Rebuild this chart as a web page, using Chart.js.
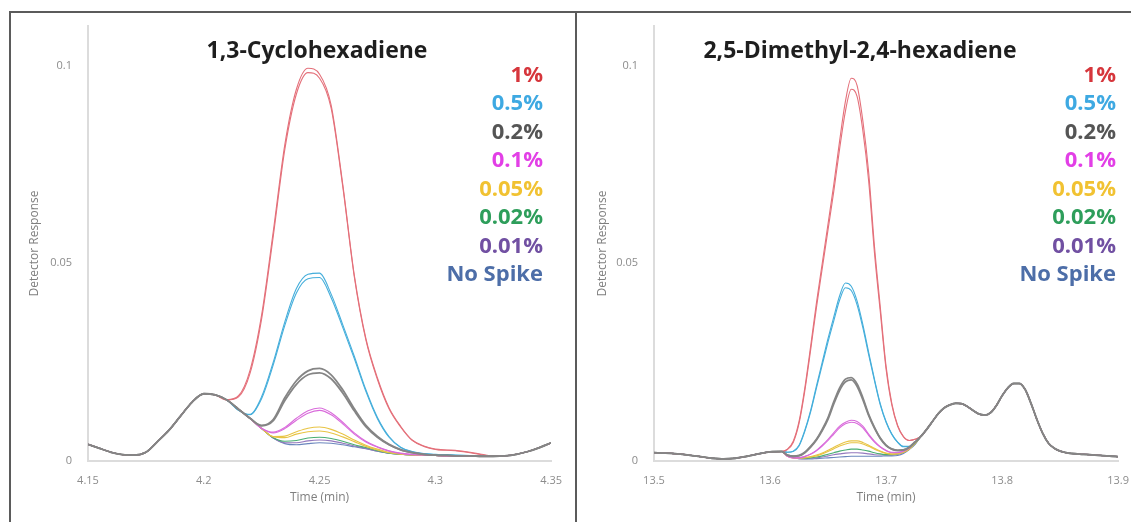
<!DOCTYPE html>
<html>
<head>
<meta charset="utf-8">
<script src="https://cdn.jsdelivr.net/npm/chart.js@4.4.1/dist/chart.umd.min.js"></script>
<style>
html,body{margin:0;padding:0;background:#fff;width:1131px;height:522px;overflow:hidden;position:relative;}
#frame{position:absolute;left:9px;top:11px;width:1200px;height:600px;border-left:2px solid #5b5b5b;border-top:2px solid #5b5b5b;}
#divider{position:absolute;left:575px;top:11px;width:2px;height:600px;background:#5b5b5b;}
.wrap{position:absolute;top:0;height:522px;}
#w1{left:0;width:575px;}
#w2{left:577px;width:565px;}
canvas{display:block;}
</style>
</head>
<body>
<div id="frame"></div>
<div id="divider"></div>
<div class="wrap" id="w1"><canvas id="c1" width="575" height="522"></canvas></div>
<div class="wrap" id="w2"><canvas id="c2" width="565" height="522"></canvas></div>
<script>
// ---------- shared labels ----------
const legendLabels = ['1%','0.5%','0.2%','0.1%','0.05%','0.02%','0.01%','No Spike'];
const legendColors = ['#d6363c','#3ea9e2','#555555','#e23fe6','#f1c232','#2e9e5b','#7150a2','#4d6ea8'];
const yTicks = [0, 0.05, 0.1];
const yTickLabels = ['0', '0.05', '0.1'];

// ---------- left panel: 1,3-Cyclohexadiene ----------
const titleL = '1,3-Cyclohexadiene';
const xTicksL = [4.15, 4.2, 4.25, 4.3, 4.35];
const xTickLabelsL = ['4.15', '4.2', '4.25', '4.3', '4.35'];
const timeHeadL = [4.150,4.155,4.160,4.165,4.170,4.175,4.180,4.185,4.190,4.195,4.200,4.205];
const timeMidL = [4.210,4.215,4.220,4.225,4.230,4.235,4.240,4.245,4.250,4.255,4.260,4.265,4.270,4.275,4.280,4.285,4.290,4.295,4.300,4.305,4.310,4.315,4.320];
const timeTailL = [4.325,4.330,4.335,4.340,4.345,4.350];
const headL = [0.0042,0.0032,0.0022,0.0016,0.0015,0.0022,0.0049,0.0078,0.0114,0.0149,0.0170,0.0167];
const tailL = [0.0012,0.0013,0.0017,0.0024,0.0034,0.0046];
const redL1 = [0.0155,0.0165,0.0230,0.0370,0.0580,0.0800,0.0940,0.0993,0.0978,0.0900,0.0700,0.0470,0.0310,0.0210,0.0135,0.0088,0.0053,0.0038,0.0030,0.0028,0.0026,0.0022,0.0017];
const redL2 = [0.0154,0.0162,0.0222,0.0360,0.0568,0.0788,0.0928,0.0982,0.0968,0.0892,0.0695,0.0466,0.0306,0.0206,0.0132,0.0086,0.0052,0.0037,0.0029,0.0027,0.0025,0.0021,0.0016];
const blueL1 = [0.0154,0.0128,0.0118,0.0163,0.0250,0.0352,0.0436,0.0472,0.0475,0.0422,0.0345,0.0265,0.0180,0.0110,0.0062,0.0035,0.0024,0.0019,0.0017,0.0016,0.0015,0.0014,0.0013];
const blueL2 = [0.0154,0.0128,0.0117,0.0158,0.0243,0.0343,0.0425,0.0461,0.0464,0.0413,0.0338,0.0259,0.0176,0.0107,0.0060,0.0034,0.0023,0.0018,0.0016,0.0015,0.0014,0.0014,0.0013];
const grayL1 = [0.0154,0.0131,0.0108,0.0090,0.0105,0.0160,0.0203,0.0228,0.0234,0.0218,0.0180,0.0132,0.0090,0.0062,0.0042,0.0029,0.0021,0.0017,0.0015,0.0014,0.0013,0.0013,0.0012];
const grayL2 = [0.0154,0.0131,0.0108,0.0089,0.0102,0.0153,0.0194,0.0218,0.0223,0.0208,0.0172,0.0127,0.0087,0.0060,0.0041,0.0028,0.0021,0.0017,0.0015,0.0014,0.0013,0.0013,0.0012];
const magentaL1 = [0.0154,0.0131,0.0107,0.0083,0.0073,0.0085,0.0108,0.0127,0.0134,0.0122,0.0098,0.0071,0.0050,0.0036,0.0026,0.0020,0.0017,0.0015,0.0014,0.0013,0.0013,0.0013,0.0012];
const magentaL2 = [0.0154,0.0131,0.0107,0.0082,0.0071,0.0082,0.0103,0.0121,0.0128,0.0117,0.0094,0.0068,0.0048,0.0035,0.0025,0.0019,0.0016,0.0015,0.0014,0.0013,0.0013,0.0013,0.0012];
const yellowL1 = [0.0154,0.0131,0.0107,0.0082,0.0062,0.0063,0.0074,0.0083,0.0086,0.0080,0.0068,0.0053,0.0040,0.0030,0.0022,0.0018,0.0016,0.0015,0.0014,0.0013,0.0013,0.0013,0.0012];
const yellowL2 = [0.0154,0.0131,0.0107,0.0082,0.0061,0.0059,0.0068,0.0074,0.0076,0.0071,0.0061,0.0049,0.0037,0.0028,0.0021,0.0017,0.0015,0.0014,0.0014,0.0013,0.0013,0.0013,0.0012];
const greenL = [0.0154,0.0131,0.0107,0.0082,0.0059,0.0050,0.0052,0.0058,0.0060,0.0057,0.0050,0.0041,0.0034,0.0026,0.0020,0.0017,0.0015,0.0014,0.0014,0.0013,0.0013,0.0013,0.0012];
const purpleL = [0.0154,0.0131,0.0107,0.0082,0.0058,0.0046,0.0046,0.0051,0.0053,0.0051,0.0045,0.0038,0.0032,0.0025,0.0020,0.0017,0.0015,0.0014,0.0014,0.0013,0.0013,0.0013,0.0012];
const noSpikeL = [0.0154,0.0131,0.0107,0.0082,0.0058,0.0044,0.0041,0.0044,0.0046,0.0045,0.0041,0.0036,0.0031,0.0025,0.0020,0.0017,0.0015,0.0014,0.0014,0.0013,0.0013,0.0013,0.0012];

// ---------- right panel: 2,5-Dimethyl-2,4-hexadiene ----------
const titleR = '2,5-Dimethyl-2,4-hexadiene';
const xTicksR = [13.5, 13.6, 13.7, 13.8, 13.9];
const xTickLabelsR = ['13.5', '13.6', '13.7', '13.8', '13.9'];
const timeHeadR = [13.50,13.51,13.52,13.53,13.54,13.55,13.56,13.57,13.58,13.59,13.60,13.61];
const timeMidR = [13.615,13.620,13.625,13.630,13.635,13.640,13.645,13.650,13.655,13.660,13.665,13.670,13.675,13.680,13.685,13.690,13.695,13.700,13.705,13.710,13.715,13.720,13.725];
const timeTailR = [13.730,13.735,13.740,13.745,13.750,13.755,13.760,13.765,13.770,13.775,13.780,13.785,13.790,13.795,13.800,13.805,13.810,13.815,13.820,13.825,13.830,13.835,13.840,13.845,13.850,13.855,13.860,13.870,13.880,13.890,13.900];
const headR = [0.0021,0.0020,0.0018,0.0015,0.0011,0.0007,0.0005,0.0007,0.0012,0.0018,0.0023,0.0024];
const tailR = [0.0062,0.0080,0.0100,0.0120,0.0134,0.0142,0.0146,0.0145,0.0138,0.0128,0.0119,0.0116,0.0122,0.0140,0.0165,0.0185,0.0196,0.0196,0.0180,0.0145,0.0105,0.0070,0.0045,0.0032,0.0025,0.0021,0.0019,0.0017,0.0015,0.0013,0.0011];
const redR1 = [0.0030,0.0050,0.0100,0.0185,0.0290,0.0400,0.0500,0.0600,0.0700,0.0810,0.0910,0.0968,0.0950,0.0860,0.0730,0.0543,0.0390,0.0240,0.0145,0.0090,0.0062,0.0052,0.0055];
const redR2 = [0.0029,0.0047,0.0095,0.0178,0.0281,0.0388,0.0487,0.0585,0.0683,0.0790,0.0885,0.0940,0.0922,0.0835,0.0708,0.0527,0.0378,0.0233,0.0141,0.0088,0.0061,0.0052,0.0055];
const blueR1 = [0.0022,0.0025,0.0040,0.0078,0.0128,0.0190,0.0250,0.0310,0.0365,0.0418,0.0450,0.0442,0.0405,0.0345,0.0275,0.0207,0.0145,0.0100,0.0068,0.0048,0.0037,0.0037,0.0047];
const blueR2 = [0.0022,0.0024,0.0038,0.0075,0.0124,0.0184,0.0243,0.0301,0.0355,0.0407,0.0438,0.0431,0.0395,0.0337,0.0269,0.0203,0.0142,0.0098,0.0067,0.0047,0.0036,0.0036,0.0047];
const grayR1 = [0.0015,0.0012,0.0014,0.0022,0.0037,0.0055,0.0080,0.0110,0.0150,0.0185,0.0207,0.0211,0.0195,0.0160,0.0118,0.0085,0.0058,0.0040,0.0030,0.0027,0.0028,0.0035,0.0048];
const grayR2 = [0.0015,0.0012,0.0013,0.0021,0.0035,0.0053,0.0077,0.0106,0.0145,0.0179,0.0200,0.0205,0.0189,0.0155,0.0115,0.0083,0.0057,0.0039,0.0030,0.0027,0.0028,0.0035,0.0048];
const magentaR1 = [0.0012,0.0008,0.0008,0.0012,0.0018,0.0027,0.0040,0.0055,0.0072,0.0088,0.0098,0.0103,0.0100,0.0088,0.0068,0.0050,0.0036,0.0027,0.0022,0.0022,0.0025,0.0033,0.0047];
const magentaR2 = [0.0012,0.0008,0.0008,0.0011,0.0017,0.0026,0.0038,0.0052,0.0068,0.0084,0.0094,0.0098,0.0095,0.0084,0.0065,0.0048,0.0035,0.0026,0.0021,0.0021,0.0025,0.0033,0.0047];
const yellowR1 = [0.0012,0.0008,0.0008,0.0009,0.0011,0.0015,0.0020,0.0027,0.0035,0.0042,0.0048,0.0051,0.0051,0.0047,0.0040,0.0032,0.0025,0.0020,0.0018,0.0019,0.0022,0.0030,0.0045];
const yellowR2 = [0.0012,0.0008,0.0007,0.0008,0.0010,0.0013,0.0018,0.0024,0.0031,0.0038,0.0043,0.0046,0.0046,0.0043,0.0037,0.0030,0.0024,0.0019,0.0017,0.0018,0.0022,0.0030,0.0045];
const greenR = [0.0013,0.0009,0.0007,0.0007,0.0008,0.0010,0.0013,0.0017,0.0021,0.0025,0.0028,0.0030,0.0030,0.0028,0.0025,0.0021,0.0018,0.0016,0.0016,0.0018,0.0022,0.0030,0.0044];
const purpleR = [0.0013,0.0009,0.0006,0.0006,0.0007,0.0008,0.0010,0.0013,0.0016,0.0018,0.0020,0.0021,0.0021,0.0020,0.0018,0.0016,0.0015,0.0015,0.0015,0.0017,0.0021,0.0030,0.0043];
const noSpikeR = [0.0014,0.0009,0.0006,0.0005,0.0005,0.0006,0.0007,0.0008,0.0009,0.0010,0.0011,0.0012,0.0012,0.0012,0.0012,0.0012,0.0012,0.0013,0.0013,0.0014,0.0019,0.0029,0.0042];

// ---------- styling ----------
const FONT = '"Open Sans", "Noto Sans", "DejaVu Sans", sans-serif';
const lineColors = {red:'#e4707a', blue:'#45aedb', gray:'#858585', magenta:'#d96bdb', yellow:'#e8c444', green:'#4aae73', purple:'#9478bd', nospike:'#6a86bd'};

function series(mid, color, width) { return {mid, color, width}; }

function buildDatasets(headT, midT, tailT, head, tail, list) {
  const xs = headT.concat(midT, tailT);
  return list.map(s => {
    const ys = head.concat(s.mid, tail);
    return {
      data: xs.map((x, i) => ({x, y: ys[i]})),
      borderColor: s.color,
      borderWidth: s.width,
      pointRadius: 0,
      fill: false,
      cubicInterpolationMode: 'monotone'
    };
  });
}

const overlayPlugin = {
  id: 'overlay',
  afterDraw(chart, args, o) {
    const ctx = chart.ctx;
    ctx.save();
    ctx.font = 'bold ' + o.titleSize + 'px ' + FONT;
    ctx.fillStyle = '#1e1e1e';
    ctx.textAlign = 'center';
    ctx.textBaseline = 'alphabetic';
    ctx.fillText(o.title, o.titleX, o.titleY);
    ctx.font = 'bold ' + o.legendSize + 'px ' + FONT;
    ctx.textAlign = 'right';
    legendLabels.forEach((lab, i) => {
      ctx.fillStyle = legendColors[i];
      ctx.fillText(lab, o.legendX, o.legendY0 + i * o.legendStep);
    });
    ctx.restore();
  }
};

function makeChart(id, p) {
  return new Chart(document.getElementById(id), {
    type: 'line',
    data: {datasets: p.datasets},
    plugins: [overlayPlugin],
    options: {
      responsive: false,
      animation: false,
      events: [],
      layout: {padding: {left: 0, right: p.padRight, top: 26, bottom: 0}},
      plugins: {
        legend: {display: false},
        tooltip: {enabled: false},
        overlay: p.overlay
      },
      scales: {
        x: {
          type: 'linear',
          min: p.xTicks[0],
          max: p.xTicks[p.xTicks.length - 1],
          afterBuildTicks: s => { s.ticks = p.xTicks.map(v => ({value: v})); },
          afterFit: s => { s.height = 61; },
          ticks: {
            callback: (v, i) => p.xTickLabels[i],
            color: '#8c8c8c', font: {family: FONT, size: 11},
            padding: 13, maxRotation: 0, autoSkip: false
          },
          grid: {display: false, drawTicks: false},
          border: {display: true, color: '#dcdcdc', width: 2},
          title: {display: true, text: 'Time (min)', color: '#7f7f7f',
                  font: {family: FONT, size: 12}, padding: {top: 0, bottom: 17.5}}
        },
        y: {
          type: 'linear',
          min: 0,
          max: 0.11,
          afterBuildTicks: s => { s.ticks = yTicks.map(v => ({value: v})); },
          afterFit: s => { s.width = p.yWidth; },
          ticks: {
            callback: (v, i) => yTickLabels[i],
            color: '#8c8c8c', font: {family: FONT, size: 11}, padding: 16
          },
          grid: {display: false, drawTicks: false},
          border: {display: true, color: '#dcdcdc', width: 2},
          title: {display: true, text: 'Detector Response', color: '#7f7f7f',
                  font: {family: FONT, size: 12}, padding: {top: p.yTitlePad, bottom: 0}}
        }
      }
    }
  });
}

const C = lineColors;
const dsL = buildDatasets(timeHeadL, timeMidL, timeTailL, headL, tailL, [
  series(grayL1, C.gray, 1.8), series(grayL2, C.gray, 1.8),
  series(redL1, C.red, 1.1), series(redL2, C.red, 1.1),
  series(blueL1, C.blue, 1.1), series(blueL2, C.blue, 1.1),
  series(magentaL1, C.magenta, 1.1), series(magentaL2, C.magenta, 1.1),
  series(yellowL1, C.yellow, 1.1), series(yellowL2, C.yellow, 1.1),
  series(greenL, C.green, 1.1), series(purpleL, C.purple, 1.1), series(noSpikeL, C.nospike, 1.1)
]);
const dsR = buildDatasets(timeHeadR, timeMidR, timeTailR, headR, tailR, [
  series(grayR1, C.gray, 1.8), series(grayR2, C.gray, 1.8),
  series(redR1, C.red, 1.1), series(redR2, C.red, 1.1),
  series(blueR1, C.blue, 1.1), series(blueR2, C.blue, 1.1),
  series(magentaR1, C.magenta, 1.1), series(magentaR2, C.magenta, 1.1),
  series(yellowR1, C.yellow, 1.1), series(yellowR2, C.yellow, 1.1),
  series(greenR, C.green, 1.1), series(purpleR, C.purple, 1.1), series(noSpikeR, C.nospike, 1.1)
]);

makeChart('c1', {
  datasets: dsL, xTicks: xTicksL, xTickLabels: xTickLabelsL,
  padRight: 22, yWidth: 88, yTitlePad: 27.8,
  overlay: {title: titleL, titleX: 317, titleY: 58, titleSize: 23,
            legendX: 543, legendY0: 82, legendStep: 28.43, legendSize: 22}
});
makeChart('c2', {
  datasets: dsR, xTicks: xTicksR, xTickLabels: xTickLabelsR,
  padRight: 0, yWidth: 77, yTitlePad: 18.8,
  overlay: {title: titleR, titleX: 283, titleY: 58, titleSize: 23,
            legendX: 539, legendY0: 82, legendStep: 28.43, legendSize: 22}
});
</script>
</body>
</html>
